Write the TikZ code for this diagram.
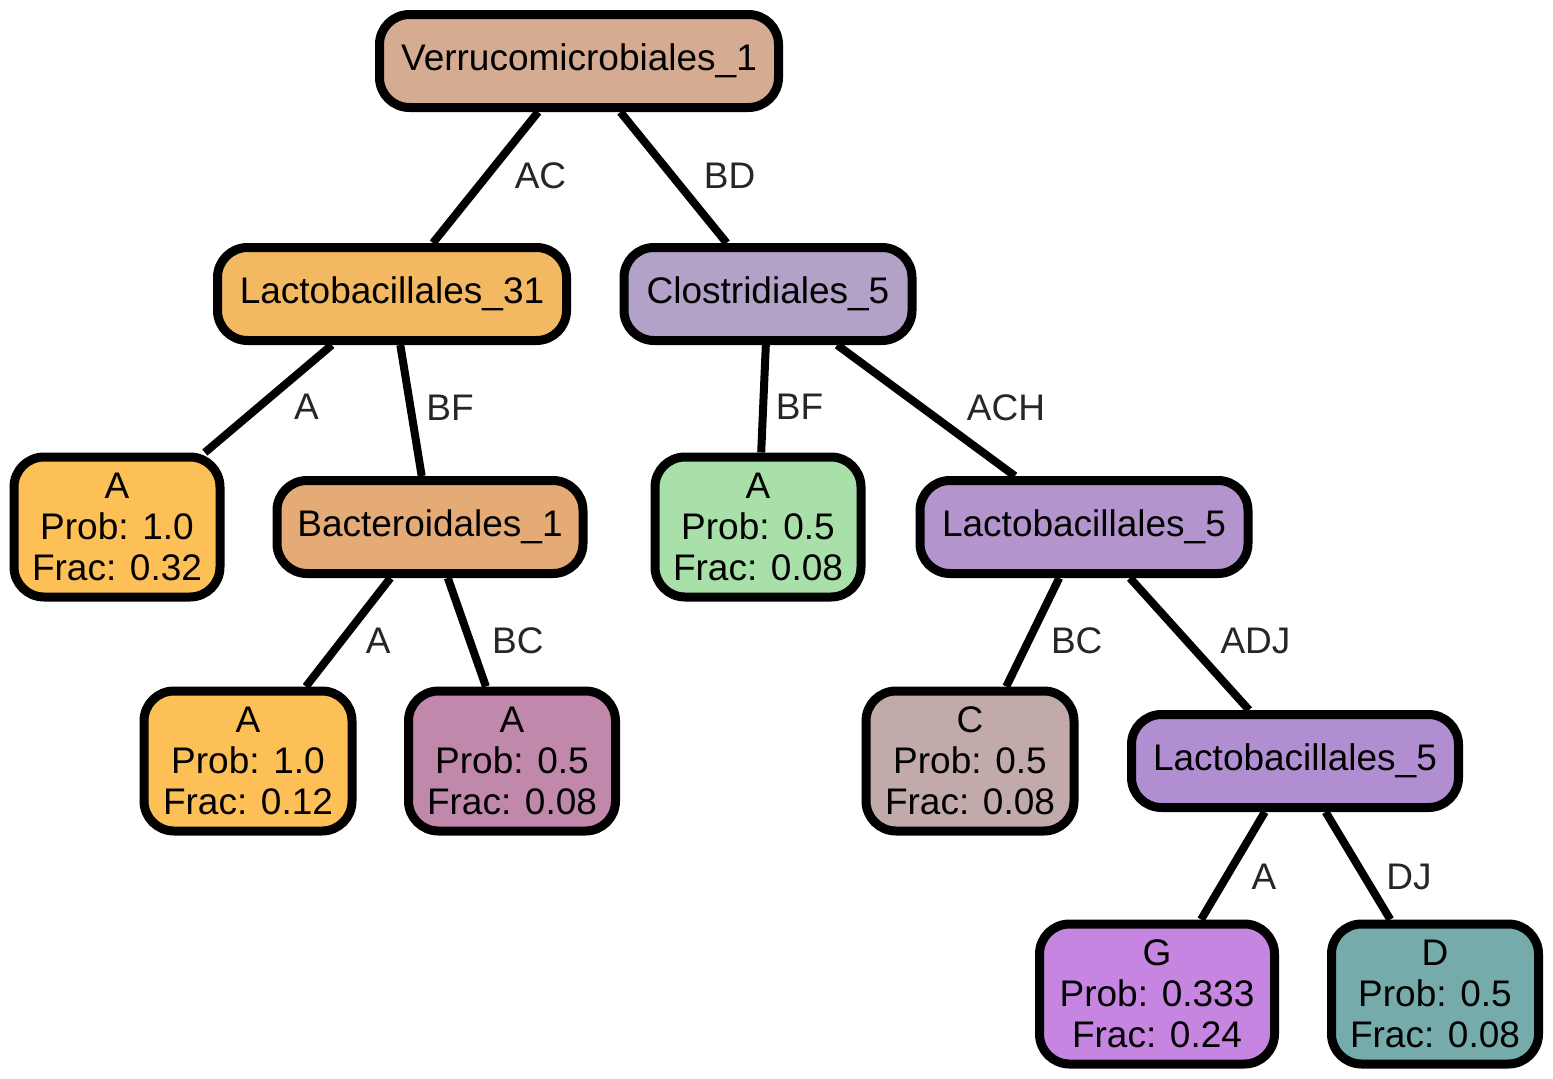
\documentclass[tikz,border=0pt]{standalone}
\usepackage{fontspec}
\setmainfont{Liberation Sans}
\usepackage{xcolor}
\usetikzlibrary{positioning,shapes.geometric,backgrounds}

\definecolor{verrucol}{HTML}{D5AC91}
\definecolor{lactocol}{HTML}{F3B862}
\definecolor{yellowleaf}{HTML}{FDC056}
\definecolor{bacterocol}{HTML}{E4AB77}
\definecolor{mauveleaf}{HTML}{C089AB}
\definecolor{clostcol}{HTML}{B2A2C7}
\definecolor{greenleaf}{HTML}{A9E0A9}
\definecolor{lactofivecol}{HTML}{B494CC}
\definecolor{greyleaf}{HTML}{C2AAAA}
\definecolor{lactofivebcol}{HTML}{B18DD2}
\definecolor{violetleaf}{HTML}{C685E0}
\definecolor{tealleaf}{HTML}{75ABAA}

\begin{document}
\begin{tikzpicture}[x=1pt, y=-1pt,
    taxon/.style={draw=black, line width=9pt, rounded corners=30pt, inner sep=0pt,
                  minimum height=93pt, align=center, font=\fontsize{37}{41}\selectfont},
    leaf/.style={taxon, minimum height=140pt},
    branch/.style={line width=8pt},
    elab/.style={text=black!85, font=\fontsize{37}{41}\selectfont}]
    \useasboundingbox (0,0) rectangle (1553,1079);

    % Nodes
    \node[taxon, fill=verrucol, minimum width=399pt] (verru) at (579,61) {Verrucomicrobiales\_1};
    \node[taxon, fill=lactocol, minimum width=349pt] (lacto31) at (392,294) {Lactobacillales\_31};
    \node[taxon, fill=clostcol, minimum width=288pt] (clost) at (768,294) {Clostridiales\_5};
    \node[leaf, fill=yellowleaf, minimum width=206pt] (leaf-a1) at (117,527) {A\\Prob: 1.0\\Frac: 0.32};
    \node[taxon, fill=bacterocol, minimum width=306pt] (bactero) at (430,527) {Bacteroidales\_1};
    \node[leaf, fill=greenleaf, minimum width=206pt] (leaf-a2) at (758,527) {A\\Prob: 0.5\\Frac: 0.08};
    \node[taxon, fill=lactofivecol, minimum width=328pt] (lacto5) at (1084,527) {Lactobacillales\_5};
    \node[leaf, fill=yellowleaf, minimum width=208pt] (leaf-a3) at (248,761) {A\\Prob: 1.0\\Frac: 0.12};
    \node[leaf, fill=mauveleaf, minimum width=207pt] (leaf-a4) at (512,761) {A\\Prob: 0.5\\Frac: 0.08};
    \node[leaf, fill=greyleaf, minimum width=208pt] (leaf-c) at (970,761) {C\\Prob: 0.5\\Frac: 0.08};
    \node[taxon, fill=lactofivebcol, minimum width=327pt] (lacto5b) at (1295,761) {Lactobacillales\_5};
    \node[leaf, fill=violetleaf, minimum width=235pt] (leaf-g) at (1157,994) {G\\Prob: 0.333\\Frac: 0.24};
    \node[leaf, fill=tealleaf, minimum width=207pt] (leaf-d) at (1435,994) {D\\Prob: 0.5\\Frac: 0.08};

    % Lines
    \begin{scope}[on background layer]
    \draw[branch] (verru) -- node[elab, xshift=55pt, yshift=2pt] {AC} (lacto31);
    \draw[branch] (verru) -- node[elab, xshift=56pt, yshift=2pt] {BD} (clost);
    \draw[branch] (lacto31) -- node[elab, xshift=38pt, yshift=-8pt] {A} (leaf-a1);
    \draw[branch] (lacto31) -- node[elab, xshift=39pt, yshift=3pt] {BF} (bactero);
    \draw[branch] (clost) -- node[elab, xshift=36pt, yshift=-8pt] {BF} (leaf-a2);
    \draw[branch] (clost) -- node[elab, xshift=80pt, yshift=3pt] {ACH} (lacto5);
    \draw[branch] (bactero) -- node[elab, xshift=30pt, yshift=-9pt] {A} (leaf-a3);
    \draw[branch] (bactero) -- node[elab, xshift=51pt, yshift=-9pt] {BC} (leaf-a4);
    \draw[branch] (lacto5) -- node[elab, xshift=44pt, yshift=-9pt] {BC} (leaf-c);
    \draw[branch] (lacto5) -- node[elab, xshift=66pt, yshift=3pt] {ADJ} (lacto5b);
    \draw[branch] (lacto5b) -- node[elab, xshift=31pt, yshift=-11pt] {A} (leaf-g);
    \draw[branch] (lacto5b) -- node[elab, xshift=51pt, yshift=-11pt] {DJ} (leaf-d);
    \end{scope}

\end{tikzpicture}
\end{document}
